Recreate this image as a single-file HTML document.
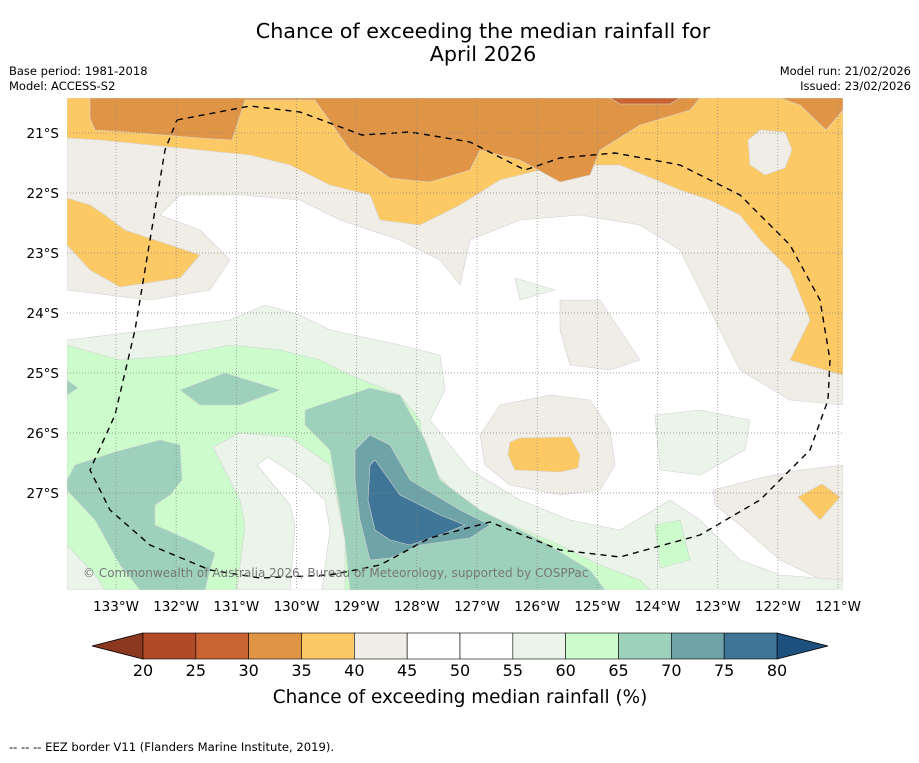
<!DOCTYPE html>
<html><head><meta charset="utf-8">
<style>
body{margin:0;background:#fff;font-family:"Liberation Sans","DejaVu Sans",sans-serif;}
svg text{font-family:"DejaVu Sans","Liberation Sans",sans-serif;}
</style></head>
<body>
<svg id="chart" width="919" height="758" viewBox="0 0 919 758">
<text x="483" y="38" text-anchor="middle" font-size="20.7">Chance of exceeding the median rainfall for</text>
<text x="483" y="61" text-anchor="middle" font-size="20.7">April 2026</text>
<text x="9" y="75" font-size="11.5">Base period: 1981-2018</text>
<text x="9" y="90" font-size="11.5">Model: ACCESS-S2</text>
<text x="911" y="75" font-size="11.5" text-anchor="end">Model run: 21/02/2026</text>
<text x="911" y="90" font-size="11.5" text-anchor="end">Issued: 23/02/2026</text>
<defs><clipPath id="mapclip"><rect x="67" y="98" width="776" height="492"/></clipPath></defs>
<g id="map" clip-path="url(#mapclip)">
<rect x="67" y="98" width="776" height="492" fill="#fff"/>
</g>
<g id="grid"></g>
<g id="axes"></g>
<g id="cbar"></g>
<text x="460" y="703" text-anchor="middle" font-size="18.4">Chance of exceeding median rainfall (%)</text>
<text x="9" y="751" font-size="11.6">--  --  -- EEZ border V11 (Flanders Marine Institute, 2019).</text>
</svg>
<script>
const levels=[20,25,30,35,40,45,50,55,60,65,70,75,80];
const colors=["#b04a27","#c96432","#e09445","#fdc964","#f0ece6","#ffffff","#ffffff","#eaf4e9","#ccfccc","#9dd1bb","#6ea3a8","#3f7596"];
const underColor="#8c3820", overColor="#1d4f7f";
const lonTicks=[133,132,131,130,129,128,127,126,125,124,123,122,121];
const latTicks=[21,22,23,24,25,26,27];
const NS="http://www.w3.org/2000/svg";
function xLon(w){return 116+(133-w)*60.17;}
function yLat(s){return 133+(s-21)*60;}
function mk(t,a,p){const e=document.createElementNS(NS,t);for(const k in a)e.setAttribute(k,a[k]);p.appendChild(e);return e;}
const regions=[
["#f0ece6","contour-40-45-north","67,98 843,98 843,405 790,400 740,370 720,330 700,290 680,250 640,225 580,215 520,220 470,240 460,285 440,260 400,240 340,220 300,200 240,195 180,195 160,215 200,230 230,260 210,290 150,300 67,290"],
["#f0ece6","contour-40-45-east-spur","560,300 600,300 620,330 640,360 610,370 570,365 560,330"],
["#f0ece6","contour-40-45-center","480,435 500,405 550,395 590,400 610,430 615,465 600,490 560,495 510,485 485,465"],
["#f0ece6","contour-40-45-southeast","713,490 760,478 800,470 843,465 843,590 780,560 740,525 715,505"],
["#fdc964","contour-35-40-north","67,98 843,98 843,375 790,360 810,320 790,270 760,240 740,215 710,200 680,190 620,165 560,165 500,180 460,205 420,225 380,220 370,195 330,185 290,165 250,155 200,150 150,145 100,140 67,138"],
["#fdc964","contour-35-40-west","67,198 90,205 105,215 125,230 200,255 180,278 120,287 90,270 67,245"],
["#fdc964","contour-35-40-center","510,442 520,438 570,437 580,455 578,468 560,472 515,470 508,455"],
["#fdc964","contour-35-40-southeast","798,497 822,484 840,497 820,520"],
["#f0ece6","contour-40-45-hole","748,140 760,130 785,132 792,150 785,168 765,175 750,165"],
["#e09445","contour-30-35-north","90,98 700,98 690,110 640,125 600,150 590,175 560,182 520,160 480,150 470,170 430,182 390,178 350,150 315,100 245,100 232,140 200,138 140,133 95,130 90,118"],
["#e09445","contour-30-35-northeast","780,98 843,98 843,110 826,130 800,105"],
["#c96432","contour-25-30-north","610,98 680,98 670,104 620,104"],
["#eaf4e9","contour-55-60-south","67,340 150,330 230,320 265,305 300,315 330,330 400,345 440,355 445,390 430,420 470,470 520,500 570,520 620,530 670,500 700,520 740,560 780,575 843,580 843,590 67,590"],
["#eaf4e9","contour-55-60-east","655,415 700,410 750,420 745,450 700,475 660,470"],
["#eaf4e9","contour-55-60-north","515,278 555,290 520,300"],
["#ccfccc","contour-60-65-south","67,345 120,360 180,355 230,345 280,350 320,360 350,375 400,395 420,420 425,460 460,500 500,520 560,545 600,565 640,580 650,590 67,590"],
["#ccfccc","contour-60-65-east","655,525 680,520 690,560 660,568"],
["#eaf4e9","contour-55-60-southwest","213,447 240,433 290,437 330,465 345,540 345,590 237,590 245,525 240,500"],
["#ffffff","contour-50-55-southwest","257,465 268,457 300,478 325,500 330,530 322,590 290,590 295,525 290,505"],
["#eaf4e9","contour-55-60-corner","67,545 95,575 105,590 67,590"],
["#9dd1bb","contour-65-70-west","67,480 75,465 115,452 160,440 180,445 182,480 170,495 155,505 155,525 200,545 215,553 210,570 205,590 140,590 120,565 95,520 67,490"],
["#9dd1bb","contour-65-70-mid","180,390 225,373 280,390 240,405 200,405"],
["#9dd1bb","contour-65-70-edge","67,380 78,388 67,395"],
["#9dd1bb","contour-65-70-main","305,410 370,388 400,395 425,440 440,480 480,510 540,540 590,570 605,590 350,590 345,540 330,450 305,425"],
["#6ea3a8","contour-70-75","355,450 370,435 390,445 410,480 460,510 490,525 470,538 420,545 390,558 370,560 360,520 355,480"],
["#3f7596","contour-75-80","370,465 375,460 400,495 440,515 465,525 440,535 410,545 390,540 375,530 368,500"]
];
const map=document.getElementById('map');
regions.forEach(r=>{
 const p=mk('polygon',{points:r[2],fill:r[0],stroke:'#d2d2d2','stroke-width':0.6,'stroke-linejoin':'round'},map);
 
 
});
const eez="177,120 250,106 300,112 362,135 410,132 470,142 525,170 560,158 615,153 680,165 740,195 790,245 820,300 830,360 828,400 810,450 760,500 700,535 620,557 560,550 490,522 430,538 380,565 330,575 260,578 210,570 150,545 110,510 90,470 115,415 135,330 155,210 165,150 177,120";
const e=mk('polyline',{points:eez,fill:'none',stroke:'#000','stroke-width':1.4,'stroke-dasharray':'6,5'},map);


const cr=mk('text',{x:83,y:577,'font-size':12,fill:'#777'},map);
cr.textContent="© Commonwealth of Australia 2026, Bureau of Meteorology, supported by COSPPac";


const grid=document.getElementById('grid'),axes=document.getElementById('axes');
lonTicks.forEach(w=>{
 const x=xLon(w);
 const l=mk('line',{x1:x,x2:x,y1:98,y2:590,stroke:'#888','stroke-width':0.7,'stroke-dasharray':'1,2'},grid);
 
 
 const t=mk('text',{x:x,y:611,'text-anchor':'middle','font-size':13.5},axes);
 t.textContent=w+"°W";
 
 
});
latTicks.forEach(s=>{
 const y=yLat(s);
 const l=mk('line',{x1:67,x2:843,y1:y,y2:y,stroke:'#888','stroke-width':0.7,'stroke-dasharray':'1,2'},grid);
 
 
 const t=mk('text',{x:59,y:y+5,'text-anchor':'end','font-size':13.5},axes);
 t.textContent=s+"°S";
 
 
});
const cb=document.getElementById('cbar');
const cx0=143,cx1=777,cy=633,ch=26;
function xc(v){return cx0+(v-levels[0])/(levels[levels.length-1]-levels[0])*(cx1-cx0);}
const u=mk('polygon',{points:`${cx0},${cy} ${cx0},${cy+ch} 92,${cy+ch/2}`,fill:underColor,stroke:'#000','stroke-width':0.8},cb);


const o=mk('polygon',{points:`${cx1},${cy} ${cx1},${cy+ch} 828,${cy+ch/2}`,fill:overColor,stroke:'#000','stroke-width':0.8},cb);


for(let i=0;i<colors.length;i++){
 const r=mk('rect',{x:xc(levels[i]),y:cy,width:xc(levels[i+1])-xc(levels[i]),height:ch,fill:colors[i],stroke:'#000','stroke-width':0.6},cb);
 
 
}
levels.forEach(v=>{
 const t=mk('text',{x:xc(v),y:676,'text-anchor':'middle','font-size':16},cb);
 t.textContent=v;
 
 
});
</script>
</body></html>
